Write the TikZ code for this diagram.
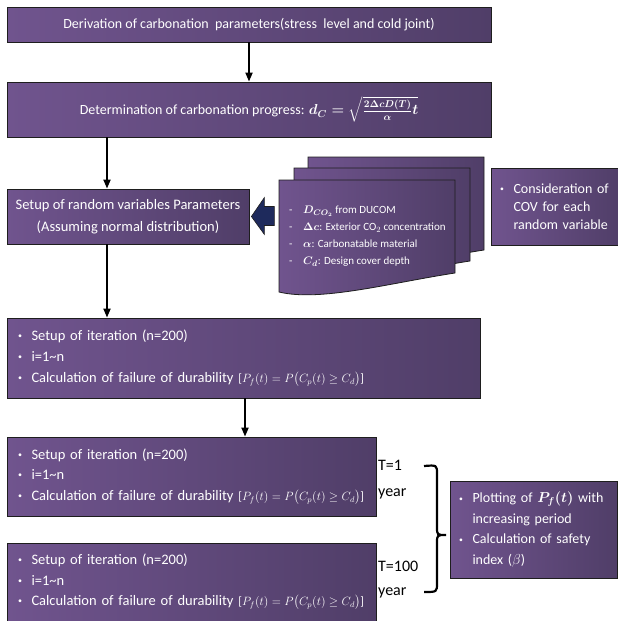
\documentclass[tikz,border=0pt]{standalone}
\usepackage{amsmath,amssymb}
\usepackage{graphicx}
\usepackage{fontspec}
\setmainfont{Carlito}
\usetikzlibrary{arrows.meta}
\definecolor{boxL}{RGB}{112,84,142}
\definecolor{boxR}{RGB}{80,62,104}
\definecolor{navy}{RGB}{30,42,92}
\definecolor{edge}{RGB}{30,30,30}
\newcommand{\bul}{\makebox[13.5pt][l]{\raisebox{0.25ex}{\scalebox{0.55}{\textbullet}}}}
\newcommand{\dsh}{\makebox[14pt][l]{-}}
\newcommand{\iterlines}{\bul Setup of iteration (n=200)\\
\bul i=1\textasciitilde n\\
\bul Calculation of failure of durability {\fontsize{12}{14}\selectfont[$P_f(t) = P\bigl(C_p(t) \ge C_d\bigr)$]}}
\newcommand{\docshape}{(0,0) -- (176,0) -- (176,93) .. controls (111,103) and (41,122) .. (0,112) -- cycle}

\begin{document}
\begin{tikzpicture}[x=1pt,y=-1pt,
  box/.style={draw=edge,line width=0.8pt,left color=boxL,right color=boxR,text=white,inner sep=0pt},
  doc/.style={draw=edge,line width=0.8pt,left color=boxL,right color=boxR},
  arr/.style={-{Triangle[length=9pt,width=7pt]},line width=1.8pt}]
\useasboundingbox (0,0) rectangle (618,621);
% main column
\node[box,minimum width=484pt,minimum height=35pt,font=\fontsize{14}{16}\selectfont] (deriv) at (249,24.5)
  {Derivation of carbonation\ \ parameters(stress\ \ level and cold joint)};
\node[box,minimum width=484pt,minimum height=55pt,font=\fontsize{14}{16}\selectfont] (prog) at (249,109.5)
  {Determination of carbonation progress: {\boldmath$d_C = \sqrt{\frac{2\Delta c D(T)}{\alpha}t}$}};
\node[box,minimum width=242pt,minimum height=55pt,align=center,font=\fontsize{14.5}{22}\selectfont] (rand) at (128,216.5)
  {Setup of random variables Parameters\\(Assuming normal distribution)};
\node[box,minimum width=473pt,minimum height=80pt,text width=451pt,inner xsep=11pt,align=left,font=\fontsize{14.5}{21}\selectfont] (iter) at (243.5,358) {\iterlines};
\node[box,minimum width=369pt,minimum height=79pt,text width=347pt,inner xsep=11pt,align=left,font=\fontsize{14.5}{20.5}\selectfont] (year1) at (191.5,476.5) {\iterlines};
\node[box,minimum width=369pt,minimum height=78pt,text width=347pt,inner xsep=11pt,align=left,font=\fontsize{14.5}{20.5}\selectfont] (year100) at (191.5,582) {\iterlines};
% stacked sheets of input values
\foreach \dx/\dy in {308/157,294/168,279/180}
  \path[doc,shift={(\dx,\dy)}] \docshape;
\node[anchor=west,inner sep=0pt,text=white,align=left,font=\fontsize{11}{17}\selectfont] (vars) at (289,236.5)
  {\dsh {\boldmath$D_{CO_2}$} from DUCOM\\
   \dsh {\boldmath$\Delta c$}: Exterior CO$_2$ concentration\\
   \dsh {\boldmath$\alpha$}: Carbonatable material\\
   \dsh {\boldmath$C_d$}: Design cover depth};
\node[box,minimum width=130pt,minimum height=77pt,text width=112pt,inner xsep=9pt,align=left,font=\fontsize{14}{18}\selectfont] (cov) at (556,206.5)
  {\bul Consideration of\\\hspace*{13.5pt}COV for each\\\hspace*{13.5pt}random variable};
% block arrow into the setup box
\coordinate (tip) at ([xshift=2pt]rand.east);
\filldraw[fill=navy,draw=edge,line width=0.6pt] (tip) -- ++(13,-19) -- ++(0,9) -- ++(10,0) -- ++(0,19) -- ++(-10,0) -- ++(0,9) -- cycle;
% connectors
\coordinate (colA) at (107,0);
\coordinate (colB) at (245,0);
\draw[arr] (deriv.south -| prog.north) -- (prog.north);
\draw[arr] (prog.south -| colA) -- (rand.north -| colA);
\draw[arr] (rand.south -| colA) -- (iter.north -| colA);
\draw[arr] (iter.south -| colB) -- (year1.north -| colB);
% periods and result
\node[anchor=west,inner sep=0pt,align=left,font=\fontsize{16}{26}\selectfont] (t1) at (378,480) {T=1\\year};
\node[anchor=west,inner sep=0pt,align=left,font=\fontsize{16}{24}\selectfont] (t100) at (378,580) {T=100\\year};
\node[box,minimum width=167pt,minimum height=97pt,text width=149pt,inner xsep=9pt,align=left,font=\fontsize{14}{20.5}\selectfont] (plot) at (533.5,529.5)
  {\bul Plotting of {\boldmath$P_f(t)$} with\\\hspace*{13.5pt}increasing period\\\bul Calculation of safety\\\hspace*{13.5pt}index ($\beta$)};
\draw[line width=2.2pt] (424,466) .. controls (437,465) .. (437,474) -- (437,527)
  .. controls (437,535) .. (446,535) .. controls (437,535) .. (437,543) -- (437,583)
  .. controls (437,592) .. (424,592);
\end{tikzpicture}
\end{document}
